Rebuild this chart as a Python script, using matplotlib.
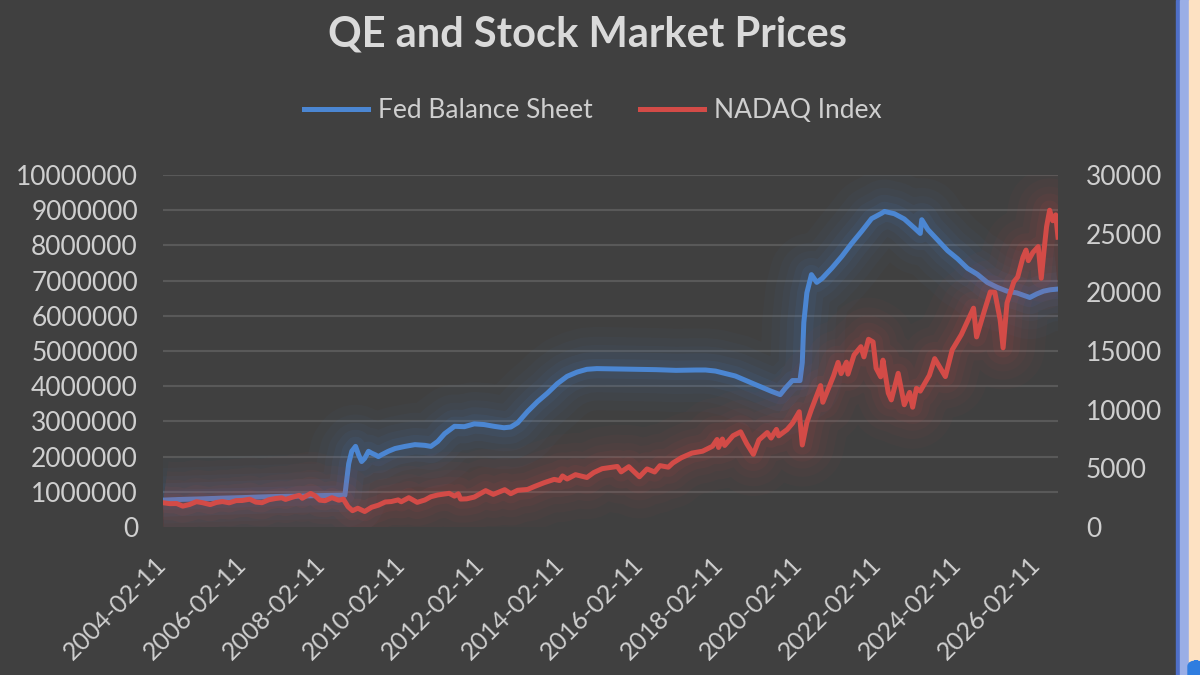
import matplotlib
matplotlib.use("Agg")
import matplotlib.pyplot as plt
from matplotlib.patches import Rectangle, FancyBboxPatch
import pandas as pd

# ---------------- data ----------------
fed_dates = [
    "2004-02-11", "2004-08-11", "2005-02-09", "2005-08-10", "2006-02-08", "2006-08-09",
    "2007-02-07", "2007-08-08", "2007-12-12", "2008-03-12", "2008-06-11", "2008-09-10",
    "2008-10-15", "2008-11-12", "2008-12-17", "2009-01-14", "2009-02-11", "2009-03-11",
    "2009-04-15", "2009-05-13", "2009-06-17", "2009-07-15", "2009-08-12", "2009-10-14",
    "2009-12-16", "2010-03-17", "2010-06-16", "2010-09-15", "2010-11-10", "2011-01-12",
    "2011-03-16", "2011-06-15", "2011-09-14", "2011-12-14", "2012-03-14", "2012-06-13",
    "2012-09-12", "2012-11-14", "2013-01-16", "2013-04-17", "2013-07-17", "2013-10-16",
    "2014-01-15", "2014-04-16", "2014-07-16", "2014-10-15", "2015-01-14", "2015-07-15",
    "2016-01-13", "2016-07-13", "2017-01-11", "2017-07-12", "2017-10-11", "2018-01-10",
    "2018-07-11", "2019-01-09", "2019-06-12", "2019-08-28", "2019-10-16", "2019-12-18",
    "2020-02-26", "2020-03-18", "2020-04-01", "2020-04-29", "2020-06-10", "2020-07-29",
    "2020-09-16", "2020-12-16", "2021-03-17", "2021-06-16", "2021-09-15", "2021-12-15",
    "2022-03-16", "2022-04-13", "2022-07-13", "2022-10-12", "2023-01-11", "2023-03-08",
    "2023-03-22", "2023-05-17", "2023-08-16", "2023-11-15", "2024-02-14", "2024-05-15",
    "2024-08-14", "2024-11-13", "2025-02-12", "2025-05-14", "2025-08-13", "2025-10-15",
    "2025-12-10", "2026-02-11", "2026-04-15", "2026-06-17", "2026-08-26",
]
fed_values = [
    765000, 785000, 800000, 820000, 835000, 855000,
    870000, 880000, 890000, 895000, 900000, 905000,
    1800000, 2150000, 2290000, 2050000, 1860000, 1950000,
    2150000, 2100000, 2050000, 2000000, 2050000, 2150000,
    2230000, 2290000, 2340000, 2320000, 2290000, 2430000,
    2650000, 2860000, 2850000, 2930000, 2910000, 2860000,
    2820000, 2840000, 2960000, 3280000, 3560000, 3800000,
    4070000, 4280000, 4400000, 4480000, 4500000, 4490000,
    4480000, 4470000, 4450000, 4460000, 4460000, 4430000,
    4290000, 4050000, 3850000, 3760000, 3950000, 4160000,
    4160000, 4670000, 5810000, 6650000, 7170000, 6950000,
    7060000, 7360000, 7690000, 8060000, 8400000, 8760000,
    8910000, 8965000, 8900000, 8750000, 8500000, 8340000,
    8730000, 8450000, 8150000, 7850000, 7620000, 7350000,
    7180000, 6950000, 6810000, 6700000, 6650000, 6580000,
    6520000, 6620000, 6700000, 6740000, 6760000,
]

ndq_dates = [
    "2004-02-11", "2004-04-14", "2004-06-16", "2004-08-11", "2004-10-13", "2004-12-15",
    "2005-02-09", "2005-04-20", "2005-06-15", "2005-08-10", "2005-10-12", "2005-12-14",
    "2006-02-08", "2006-04-19", "2006-06-14", "2006-08-09", "2006-10-11", "2006-12-13",
    "2007-02-07", "2007-03-14", "2007-05-16", "2007-07-18", "2007-08-15", "2007-10-31",
    "2007-12-12", "2008-01-23", "2008-03-12", "2008-05-14", "2008-07-16", "2008-08-27",
    "2008-10-08", "2008-11-19", "2009-01-07", "2009-03-11", "2009-05-13", "2009-07-15",
    "2009-09-16", "2009-11-11", "2010-01-13", "2010-02-10", "2010-04-21", "2010-07-07",
    "2010-09-15", "2010-11-10", "2011-01-12", "2011-04-27", "2011-06-15", "2011-07-20",
    "2011-08-10", "2011-10-05", "2011-12-14", "2012-03-28", "2012-06-06", "2012-09-19",
    "2012-11-14", "2013-01-16", "2013-04-17", "2013-06-19", "2013-09-18", "2013-12-18",
    "2014-02-05", "2014-03-05", "2014-04-16", "2014-07-02", "2014-10-15", "2014-12-17",
    "2015-03-04", "2015-07-22", "2015-08-26", "2015-11-04", "2016-02-10", "2016-04-20",
    "2016-06-29", "2016-08-17", "2016-11-02", "2016-12-14", "2017-03-01", "2017-06-07",
    "2017-09-13", "2017-12-13", "2018-01-24", "2018-02-07", "2018-03-14", "2018-04-04",
    "2018-06-20", "2018-08-29", "2018-10-24", "2018-12-24", "2019-02-13", "2019-05-01",
    "2019-06-05", "2019-07-24", "2019-08-14", "2019-10-30", "2019-12-18", "2020-02-19",
    "2020-03-18", "2020-04-29", "2020-06-10", "2020-09-02", "2020-09-23", "2020-11-04",
    "2020-12-30", "2021-02-10", "2021-03-10", "2021-04-28", "2021-05-12", "2021-07-07",
    "2021-09-08", "2021-10-06", "2021-11-17", "2021-12-29", "2022-01-26", "2022-03-09",
    "2022-03-30", "2022-05-18", "2022-06-15", "2022-08-17", "2022-10-12", "2022-11-30",
    "2022-12-28", "2023-02-01", "2023-03-08", "2023-05-31", "2023-07-19", "2023-10-25",
    "2023-12-27", "2024-03-20", "2024-07-10", "2024-08-07", "2024-10-16", "2024-12-11",
    "2025-01-22", "2025-03-12", "2025-04-08", "2025-05-14", "2025-07-16", "2025-08-20",
    "2025-10-08", "2025-11-05", "2025-11-26", "2026-01-07", "2026-02-25", "2026-03-25",
    "2026-04-22", "2026-05-13", "2026-06-10", "2026-07-08", "2026-08-05", "2026-08-26",
]
ndq_values = [
    2070, 1990, 2000, 1780, 1920, 2160,
    2070, 1910, 2090, 2170, 2060, 2250,
    2260, 2370, 2120, 2070, 2320, 2430,
    2490, 2350, 2540, 2700, 2450, 2860,
    2650, 2290, 2240, 2500, 2280, 2380,
    1740, 1390, 1600, 1320, 1680, 1860,
    2130, 2170, 2310, 2150, 2500, 2100,
    2300, 2580, 2730, 2870, 2630, 2830,
    2380, 2400, 2550, 3100, 2780, 3180,
    2840, 3130, 3200, 3450, 3780, 4060,
    3960, 4350, 4090, 4460, 4220, 4640,
    4970, 5160, 4700, 5140, 4280, 4950,
    4690, 5230, 5100, 5460, 5900, 6300,
    6460, 6880, 7460, 6780, 7500, 6950,
    7780, 8110, 7100, 6190, 7420, 8050,
    7580, 8320, 7770, 8300, 8830, 9820,
    6990, 8910, 10020, 12050, 10630, 11590,
    12870, 14030, 13070, 14050, 13030, 14660,
    15370, 14500, 16000, 15770, 13540, 12800,
    14220, 11420, 10830, 13100, 10420, 11470,
    10210, 11820, 11580, 12930, 14350, 12820,
    15100, 16400, 18650, 16200, 18370, 20030,
    20000, 17650, 15270, 19100, 20900, 21300,
    23000, 23600, 22700, 23400, 23900, 21200,
    23800, 25600, 27000, 26100, 26600, 24700,
]

left_ticks = [0, 1000000, 2000000, 3000000, 4000000, 5000000,
              6000000, 7000000, 8000000, 9000000, 10000000]
right_ticks = [0, 5000, 10000, 15000, 20000, 25000, 30000]
x_tick_labels = ["2004-02-11", "2006-02-11", "2008-02-11", "2010-02-11",
                 "2012-02-11", "2014-02-11", "2016-02-11", "2018-02-11",
                 "2020-02-11", "2022-02-11", "2024-02-11", "2026-02-11"]
x_start, x_end = "2004-02-11", "2026-08-26"

title = "QE and Stock Market Prices"
series_names = ["Fed Balance Sheet", "NADAQ Index"]

# ---------------- style ----------------
BG = "#404040"
TXT = "#cfcfcf"
GRID = "#595959"
BLUE = "#4b86d2"
RED = "#d34b47"
FONT = "Lato"

plt.rcParams["font.family"] = [FONT, "DejaVu Sans"]

fig = plt.figure(figsize=(12, 6.75), dpi=100, facecolor=BG)
W, H = 1200, 675
L, R, T, B = 163, 1058, 175, 527
ax = fig.add_axes([L / W, 1 - B / H, (R - L) / W, (B - T) / H])
ax.set_facecolor(BG)
ax2 = ax.twinx()

fd = pd.to_datetime(fed_dates)
nd = pd.to_datetime(ndq_dates)


def glow(a, x, y, color):
    for lw, al in [(60, 0.03), (46, 0.035), (34, 0.045), (24, 0.06), (14, 0.08)]:
        a.plot(x, y, color=color, lw=lw, alpha=al, solid_capstyle="butt",
               solid_joinstyle="round")


glow(ax, fd, fed_values, BLUE)
ax.plot(fd, fed_values, color=BLUE, lw=3.6, solid_joinstyle="round",
        label=series_names[0])
glow(ax2, nd, ndq_values, RED)
ax2.plot(nd, ndq_values, color=RED, lw=3.6, solid_joinstyle="round",
         label=series_names[1])

ax.set_ylim(0, 10000000)
ax2.set_ylim(0, 30000)
ax.set_xlim(pd.Timestamp(x_start), pd.Timestamp(x_end))

ax.set_yticks(left_ticks)
ax.set_yticklabels([str(v) for v in left_ticks])
ax2.set_yticks(right_ticks)
ax2.set_yticklabels([str(v) for v in right_ticks])

xt = pd.to_datetime(x_tick_labels)
ax.set_xticks(xt)
ax.set_xticklabels(x_tick_labels, rotation=45, ha="right", va="center",
                   rotation_mode="anchor")

ax.grid(axis="y", color=GRID, lw=1.5)
ax.grid(axis="x", visible=False)
ax.set_axisbelow(True)
ax.yaxis.get_gridlines()[0].set_visible(False)

for a in (ax, ax2):
    for s in a.spines.values():
        s.set_visible(False)
    a.tick_params(length=0, colors=TXT, labelsize=19)
ax.tick_params(axis="x", labelsize=18, pad=24)
ax.tick_params(axis="y", pad=18)
ax2.tick_params(axis="y", pad=20)

fig.text(588 / W, 1 - 35 / H, title, ha="center", va="center", color="#dadada",
         fontsize=30, fontweight="bold")

h1, l1 = ax.get_legend_handles_labels()
h2, l2 = ax2.get_legend_handles_labels()
fig.legend(h1 + h2, l1 + l2, loc="center", bbox_to_anchor=(593 / W, 1 - 111 / H),
           ncol=2, frameon=False, fontsize=19, labelcolor=TXT,
           handlelength=2.4, handletextpad=0.4, columnspacing=1.8)

# right-edge window chrome seen in the screenshot
fig.patches.append(Rectangle((1176 / W, 0), 4 / W, 1, transform=fig.transFigure,
                             color="#4f6fc8", zorder=10))
fig.patches.append(Rectangle((1180 / W, 0), 9 / W, 1, transform=fig.transFigure,
                             color="#9aaee6", zorder=10))
fig.patches.append(Rectangle((1189 / W, 0), 11 / W, 1, transform=fig.transFigure,
                             color="#fde1c2", zorder=10))
fig.patches.append(FancyBboxPatch((1188 / W, -6 / H), 16 / W, 20 / H,
                                  boxstyle="round,pad=0,rounding_size=0.008",
                                  transform=fig.transFigure, color="#2f7de0",
                                  zorder=11))

fig.savefig("out.png", dpi=100, facecolor=BG)
